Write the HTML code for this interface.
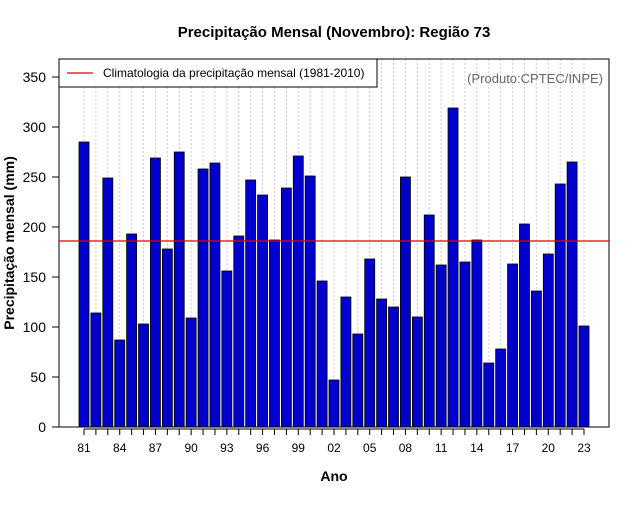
<!DOCTYPE html>
<html><head><meta charset="utf-8"><style>
body{margin:0;background:#fff}
svg text{font-family:"Liberation Sans",sans-serif}
</style></head><body>
<svg id="c" width="640" height="500" xmlns="http://www.w3.org/2000/svg">
<rect width="640" height="500" fill="#fff"/>
<text x="334" y="37" text-anchor="middle" font-size="15" font-weight="bold">Precipitação Mensal (Novembro): Região 73</text>
<text x="334" y="481" text-anchor="middle" font-size="14" font-weight="bold">Ano</text>
<text transform="translate(14,243) rotate(-90)" text-anchor="middle" font-size="14" font-weight="bold">Precipitação mensal (mm)</text>
<g id="grid"></g><g id="bars"></g><g id="axes"></g>
<rect x="59" y="59" width="550" height="368" fill="none" stroke="#000" stroke-width="1"/>
<line id="clim" x1="59" x2="609" stroke="#e00000" stroke-width="1.3"/>
<g>
<rect x="59" y="59" width="318" height="28" fill="#fff" stroke="#000"/>
<line x1="67" x2="93" y1="73" y2="73" stroke="#e00000" stroke-width="1.3"/>
<text x="103" y="77" font-size="12">Climatologia da precipitação mensal (1981-2010)</text>
</g>
<text x="603" y="83" text-anchor="end" font-size="13" fill="#666">(Produto:CPTEC/INPE)</text>
</svg>
<script>
const years=[81,82,83,84,85,86,87,88,89,90,91,92,93,94,95,96,97,98,99,0,1,2,3,4,5,6,7,8,9,10,11,12,13,14,15,16,17,18,19,20,21,22,23];
const values=[285,114,249,87,193,103,269,178,275,109,258,264,156,191,247,232,187,239,271,251,146,47,130,93,168,128,120,250,110,212,162,319,165,187,64,78,163,203,136,173,243,265,101];
const climatology=186;
const yTicks=[0,50,100,150,200,250,300,350];
const NS="http://www.w3.org/2000/svg";
const y=v=>427-v*1.0;
const x=i=>84+i*(500/42);
function mk(t,a,p){const e=document.createElementNS(NS,t);for(const k in a)e.setAttribute(k,a[k]);p.appendChild(e);return e;}
const g=document.getElementById('grid'),b=document.getElementById('bars'),ax=document.getElementById('axes');
values.forEach((v,i)=>{
 const gl=mk('line',{x1:x(i),x2:x(i),y1:59,y2:427,stroke:'#ccc','stroke-dasharray':'2,2'},g);
 
 
 const r=mk('rect',{x:x(i)-5,y:y(v),width:10,height:427-y(v),fill:'#0000cd',stroke:'#000','stroke-width':0.8},b);
 
 
 const t=mk('line',{x1:x(i),x2:x(i),y1:429,y2:435,stroke:'#000'},ax);
 
 
 if(i%3===0){const l=mk('text',{x:x(i),y:452,'text-anchor':'middle','font-size':12},ax);l.textContent=String(years[i]).padStart(2,'0');
 
 }
});
mk('line',{x1:x(0),x2:x(42),y1:429,y2:429,stroke:'#000'},ax);
yTicks.forEach(v=>{
 const t=mk('line',{x1:52,x2:59,y1:y(v),y2:y(v),stroke:'#000'},ax);
 
 
 const l=mk('text',{x:46,y:y(v)+5,'text-anchor':'end','font-size':14},ax);l.textContent=v;
 
 
});
const c=document.getElementById('clim');c.setAttribute('y1',y(climatology));c.setAttribute('y2',y(climatology));
</script>
</body></html>
